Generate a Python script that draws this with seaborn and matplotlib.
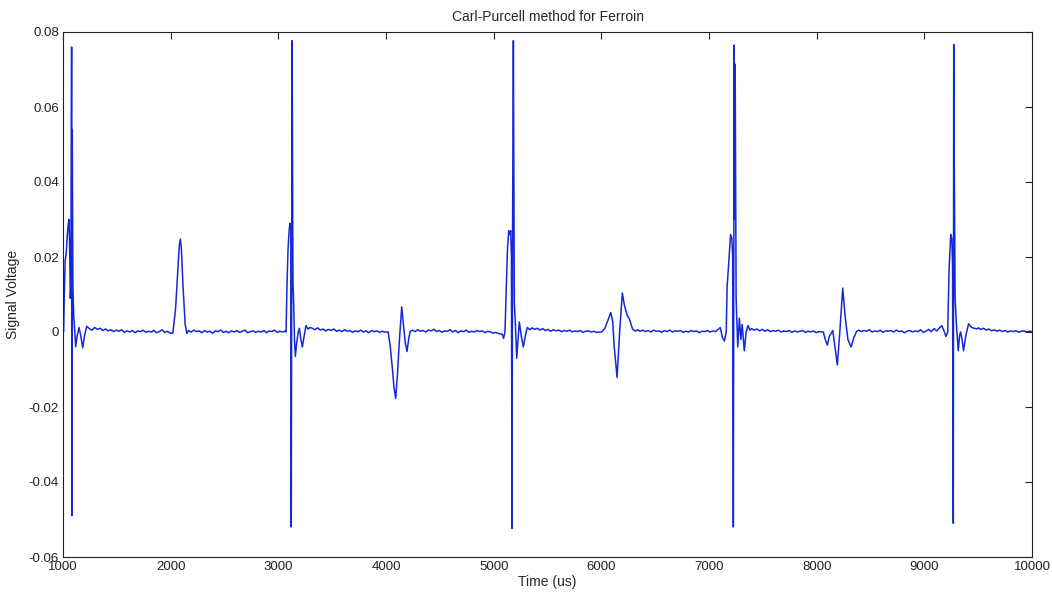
import numpy as np
import pandas as pd
import matplotlib
matplotlib.use("Agg")
import matplotlib.pyplot as plt
from matplotlib.ticker import FuncFormatter
import seaborn as sns

# --- CPMG echo train: 180-degree pulses and the spin echoes between them ---
pulse1_t = [1000, 1006, 1012, 1020, 1030, 1040, 1050, 1056, 1062, 1068, 1074, 1080,
            1082, 1086, 1092, 1100, 1110, 1118, 1132, 1149, 1165, 1183, 1200, 1220]
pulse1_v = [0.0, 0.0, 0.010, 0.019, 0.021, 0.026, 0.029, 0.030, 0.022, 0.009, 0.013, 0.076,
            -0.049, 0.054, 0.012, 0.004, 0.0, -0.0039, -0.001, 0.0012, -0.001, -0.0042, -0.001, 0.0015]

echo1_t = [2020, 2045, 2065, 2080, 2090, 2100, 2115, 2135, 2150]
echo1_v = [-0.0003, 0.006, 0.016, 0.023, 0.0248, 0.022, 0.012, 0.002, -0.0004]

pulse2_t = [3062, 3072, 3080, 3090, 3100, 3108, 3116, 3120, 3128, 3136, 3142, 3150, 3158,
            3170, 3185, 3195, 3210, 3223, 3240, 3257, 3275, 3295]
pulse2_v = [0.0002, 0.0, 0.012, 0.022, 0.027, 0.029, 0.028, -0.052, 0.0777, 0.013, 0.008, -0.002,
            -0.0065, -0.003, 0.0, 0.001, -0.002, -0.004, -0.001, 0.0017, 0.0008, 0.0012]

echo2_t = [4020, 4040, 4060, 4075, 4090, 4105, 4125, 4146, 4165, 4180, 4195, 4210, 4225]
echo2_v = [0.0, -0.004, -0.010, -0.015, -0.0177, -0.012, -0.002, 0.0067, 0.001, -0.003,
           -0.0052, -0.002, 0.0002]

pulse3_t = [5080, 5092, 5105, 5118, 5128, 5140, 5150, 5158, 5165, 5170, 5176, 5183,
            5192, 5202, 5214, 5226, 5238, 5256, 5275, 5294, 5312, 5337]
pulse3_v = [-0.0006, -0.0017, 0.0, 0.012, 0.022, 0.027, 0.026, 0.027, 0.02, -0.0524, 0.03, 0.0777,
            0.0077, 0.002, -0.007, -0.002, 0.0027, -0.001, -0.004, -0.001, 0.0012, 0.0006]

echo3_t = [6000, 6030, 6060, 6087, 6105, 6120, 6146, 6170, 6195, 6215, 6240, 6260, 6290, 6315]
echo3_v = [0.0, 0.0008, 0.003, 0.0052, 0.003, -0.004, -0.0121, 0.0, 0.0104, 0.007,
           0.0045, 0.0035, 0.0008, 0.0002]

pulse4_t = [7105, 7125, 7143, 7160, 7168, 7180, 7200, 7212, 7220, 7226, 7234,
            7238, 7243, 7252, 7267, 7282, 7296, 7308, 7328, 7345, 7362, 7380]
pulse4_v = [0.0012, -0.0015, -0.0024, 0.0, 0.012, 0.017, 0.026, 0.025, 0.02, -0.052, 0.0765,
            0.03, 0.0714, 0.0087, -0.004, 0.0037, -0.002, 0.002, -0.005, 0.0, 0.0017, 0.0005]

echo4_t = [8062, 8080, 8099, 8120, 8150, 8170, 8192, 8215, 8242, 8265, 8290, 8320, 8345, 8372]
echo4_v = [0.0, -0.002, -0.0035, -0.001, 0.0004, -0.004, -0.0088, 0.0, 0.0117, 0.004,
           -0.002, -0.004, -0.0015, 0.0002]

pulse5_t = [9161, 9180, 9201, 9217, 9230, 9245, 9255, 9262, 9269, 9273, 9277,
            9286, 9300, 9315, 9327, 9337, 9350, 9364, 9385, 9411, 9440, 9487]
pulse5_v = [0.0017, 0.0005, -0.0012, 0.0, 0.0168, 0.026, 0.025, 0.018, -0.051, 0.0767, 0.049,
            0.0087, 0.001, -0.005, -0.001, 0.0, -0.002, -0.005, -0.001, 0.0022, 0.0012, 0.0008]

# Baseline between events, sampled every 25 us from the given start time
quiet_step = 25
quiet1_start, quiet1_v = 1245, [0.0009, 0.0005, 0.0012, 0.0007, 0.0010, 0.0004, 0.0008, 0.0003,
                                0.0006, 0.0001, 0.0005, 0.0002, 0.0006, -0.0001, 0.0003, 0.0000,
                                0.0004, -0.0002, 0.0003, 0.0001, 0.0005, -0.0001, 0.0002, 0.0000,
                                0.0004, -0.0002, 0.0001, 0.0006, -0.0001, 0.0002, -0.0003]
quiet2_start, quiet2_v = 2165, [0.0004, 0.0000, 0.0005, 0.0001, 0.0003, -0.0002, 0.0004, 0.0000,
                                0.0002, -0.0003, 0.0003, 0.0001, 0.0005, -0.0001, 0.0002, -0.0002,
                                0.0003, 0.0000, 0.0004, -0.0001, 0.0002, 0.0005, -0.0002, 0.0001,
                                0.0003, -0.0001, 0.0002, 0.0000, 0.0004, -0.0002, 0.0003, 0.0001,
                                0.0005, -0.0001, 0.0002, 0.0000]
quiet3_start, quiet3_v = 3315, [0.0010, 0.0006, 0.0011, 0.0005, 0.0008, 0.0003, 0.0007, 0.0004,
                                0.0008, 0.0002, 0.0005, 0.0001, 0.0006, 0.0002, 0.0004, -0.0001,
                                0.0003, 0.0001, 0.0005, 0.0000, 0.0003, -0.0002, 0.0004, 0.0001,
                                0.0003, -0.0001, 0.0002, 0.0000]
quiet4_start, quiet4_v = 4245, [0.0005, 0.0001, 0.0006, 0.0002, 0.0004, 0.0000, 0.0005, 0.0003,
                                0.0007, 0.0001, 0.0004, -0.0001, 0.0003, 0.0002, 0.0006, 0.0000,
                                0.0004, -0.0002, 0.0003, 0.0001, 0.0005, -0.0001, 0.0002, 0.0000,
                                0.0004, 0.0001, 0.0003, -0.0002, 0.0002, 0.0000, -0.0003, -0.0001,
                                -0.0004]
quiet5_start, quiet5_v = 5355, [0.0011, 0.0007, 0.0010, 0.0005, 0.0009, 0.0004, 0.0007, 0.0002,
                                0.0006, 0.0003, 0.0005, 0.0001, 0.0004, 0.0002, 0.0005, 0.0000,
                                0.0003, 0.0001, 0.0004, -0.0001, 0.0002, 0.0003, 0.0000, 0.0002,
                                -0.0001]
quiet6_start, quiet6_v = 6335, [0.0006, 0.0002, 0.0005, 0.0001, 0.0004, 0.0000, 0.0005, 0.0002,
                                0.0003, -0.0001, 0.0004, 0.0001, 0.0005, 0.0000, 0.0003, 0.0002,
                                0.0004, -0.0001, 0.0002, 0.0000, 0.0004, 0.0001, 0.0003, -0.0002,
                                0.0002, 0.0001, 0.0004, 0.0000, 0.0003, 0.0001]
quiet7_start, quiet7_v = 7395, [0.0009, 0.0005, 0.0008, 0.0003, 0.0007, 0.0002, 0.0006, 0.0001,
                                0.0004, 0.0002, 0.0005, 0.0000, 0.0003, 0.0001, 0.0004, -0.0001,
                                0.0003, 0.0000, 0.0002, 0.0004, -0.0001, 0.0002, 0.0000, 0.0003,
                                -0.0002, 0.0001]
quiet8_start, quiet8_v = 8390, [0.0005, 0.0001, 0.0004, 0.0002, 0.0006, 0.0000, 0.0003, 0.0001,
                                0.0005, -0.0001, 0.0003, 0.0002, 0.0004, 0.0000, 0.0005, 0.0001,
                                0.0003, -0.0002, 0.0002, 0.0004, 0.0000, 0.0003, 0.0001, 0.0006,
                                -0.0001, 0.0002, 0.0007, 0.0001, 0.0009, 0.0003]
quiet9_start, quiet9_v = 9500, [0.0011, 0.0007, 0.0010, 0.0005, 0.0008, 0.0003, 0.0006, 0.0002,
                                0.0005, 0.0001, 0.0004, 0.0000, 0.0003, 0.0001, 0.0004, -0.0001,
                                0.0002, 0.0003, 0.0000, 0.0002, 0.0001]

x_ticks = [1000, 2000, 3000, 4000, 5000, 6000, 7000, 8000, 9000, 10000]
y_ticks = [-0.06, -0.04, -0.02, 0.0, 0.02, 0.04, 0.06, 0.08]


def quiet_times(start, values):
    return [start + quiet_step * i for i in range(len(values))]


segments = [
    (pulse1_t, pulse1_v),
    (quiet_times(quiet1_start, quiet1_v), quiet1_v),
    (echo1_t, echo1_v),
    (quiet_times(quiet2_start, quiet2_v), quiet2_v),
    (pulse2_t, pulse2_v),
    (quiet_times(quiet3_start, quiet3_v), quiet3_v),
    (echo2_t, echo2_v),
    (quiet_times(quiet4_start, quiet4_v), quiet4_v),
    (pulse3_t, pulse3_v),
    (quiet_times(quiet5_start, quiet5_v), quiet5_v),
    (echo3_t, echo3_v),
    (quiet_times(quiet6_start, quiet6_v), quiet6_v),
    (pulse4_t, pulse4_v),
    (quiet_times(quiet7_start, quiet7_v), quiet7_v),
    (echo4_t, echo4_v),
    (quiet_times(quiet8_start, quiet8_v), quiet8_v),
    (pulse5_t, pulse5_v),
    (quiet_times(quiet9_start, quiet9_v), quiet9_v),
]

df = pd.DataFrame({
    "time": np.concatenate([np.asarray(t, float) for t, _ in segments]),
    "signal": np.concatenate([np.asarray(v, float) for _, v in segments]),
}).sort_values("time", kind="stable")

sns.set_style("white")
plt.rcParams["font.family"] = ["Liberation Sans", "DejaVu Sans"]

fig = plt.figure(figsize=(10.52, 5.95), dpi=100)
ax = fig.add_axes([63 / 1052, 1 - 557 / 595, 969 / 1052, 525 / 595])

sns.lineplot(data=df, x="time", y="signal", ax=ax, color="#1428d8",
             linewidth=1.1, estimator=None, sort=False)

ax.set_xlim(1000, 10000)
ax.set_ylim(-0.06, 0.08)
ax.set_xticks(x_ticks)
ax.set_yticks(y_ticks)
ax.yaxis.set_major_formatter(FuncFormatter(lambda v, _: "0" if abs(v) < 1e-9 else f"{v:g}"))

ax.tick_params(direction="in", length=5, width=0.8, colors="#222222",
               labelsize=9.5, top=True, right=True, pad=3)
ax.tick_params(axis="x", pad=3)
for s in ax.spines.values():
    s.set_visible(True)
    s.set_color("#222222")
    s.set_linewidth(0.8)

ax.set_title("Carl-Purcell method for Ferroin", fontsize=10, pad=8)
ax.set_xlabel("Time (us)", fontsize=10, labelpad=1)
ax.set_ylabel("Signal Voltage", fontsize=10, labelpad=6)

fig.savefig("out.png", dpi=100, facecolor="white")
